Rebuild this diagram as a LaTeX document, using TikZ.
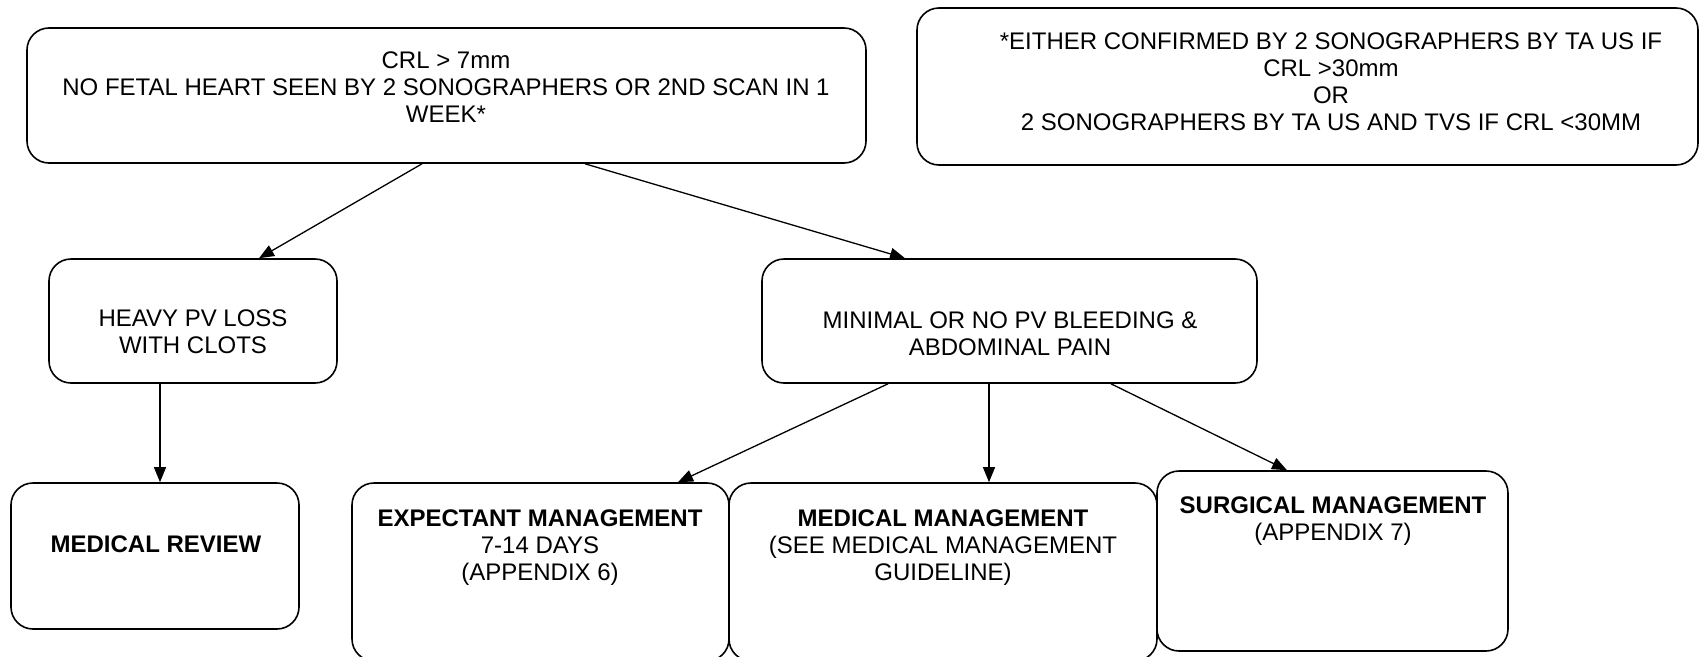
\documentclass[tikz,border=0pt]{standalone}
\usepackage{fontspec}
\setmainfont{Liberation Sans}
\usetikzlibrary{arrows.meta}
\tikzset{
  box/.style={draw=black, line width=1.6pt, rounded corners=22pt, inner sep=0pt},
  txt/.style={align=center, inner sep=0pt, font=\fontsize{24}{27}\selectfont},
  arr/.style={draw=black, line width=1.3pt, -{Triangle[length=15pt,width=12pt]}}
}
\begin{document}
\begin{tikzpicture}[x=1pt,y=-1pt]
\useasboundingbox (0,0) rectangle (1707,656);
\begin{scope}
\clip (0,0) rectangle (1707,656);
% boxes
\node[box, minimum width=839pt, minimum height=135pt] (top) at (446.5,95.5) {};
\node[box, minimum width=781pt, minimum height=157pt] (note) at (1307.5,86.5) {};
\node[box, minimum width=288pt, minimum height=124pt] (heavy) at (193,321) {};
\node[box, minimum width=495pt, minimum height=124pt] (minimal) at (1009.5,321) {};
\node[box, minimum width=288pt, minimum height=146pt] (review) at (155,556) {};
\node[box, minimum width=377pt, minimum height=178pt] (expect) at (540.5,572) {};
\node[box, minimum width=428pt, minimum height=178pt] (medical) at (943,572) {};
\node[box, minimum width=351pt, minimum height=180pt] (surgical) at (1332.5,561) {};
% texts
\node[txt] (toptext) at (446,87.5) {CRL > 7mm\\NO FETAL HEART SEEN BY 2 SONOGRAPHERS OR 2ND SCAN IN 1\\WEEK*};
\node[txt] (notetext) at (1331,82) {*EITHER CONFIRMED BY 2 SONOGRAPHERS BY TA US IF\\CRL >30mm\\OR\\2 SONOGRAPHERS BY TA US AND TVS IF CRL <30MM};
\node[txt] (heavytext) at (193,331.5) {HEAVY PV LOSS\\WITH CLOTS};
\node[txt] (minimaltext) at (1010,333.5) {MINIMAL OR NO PV BLEEDING \&\\ABDOMINAL PAIN};
\node[txt] (reviewtext) at (156,544) {\textbf{MEDICAL REVIEW}};
\node[txt] (expecttext) at (540,547.5) {\textbf{EXPECTANT MANAGEMENT}\\7-14 DAYS\\(APPENDIX 6)};
\node[txt] (medicaltext) at (943,547.5) {\textbf{MEDICAL MANAGEMENT}\\(SEE MEDICAL MANAGEMENT\\GUIDELINE)};
\node[txt] (surgicaltext) at (1333,521.5) {\textbf{SURGICAL MANAGEMENT}\\(APPENDIX 7)};
% arrows
\draw[arr] ([xshift=-24.5pt]top.south) -- ([xshift=66pt]heavy.north);
\draw[arr] ([xshift=138.5pt]top.south) -- ([xshift=-104.5pt]minimal.north);
\draw[arr] ([xshift=-33pt]heavy.south) -- ([xshift=5pt]review.north);
\draw[arr] ([xshift=-121.5pt]minimal.south) -- ([xshift=137.5pt]expect.north);
\draw[arr] ([xshift=-20.5pt]minimal.south) -- ([xshift=46pt]medical.north);
\draw[arr] ([xshift=101.5pt]minimal.south) -- ([xshift=-45.5pt]surgical.north);
\end{scope}
\end{tikzpicture}
\end{document}
